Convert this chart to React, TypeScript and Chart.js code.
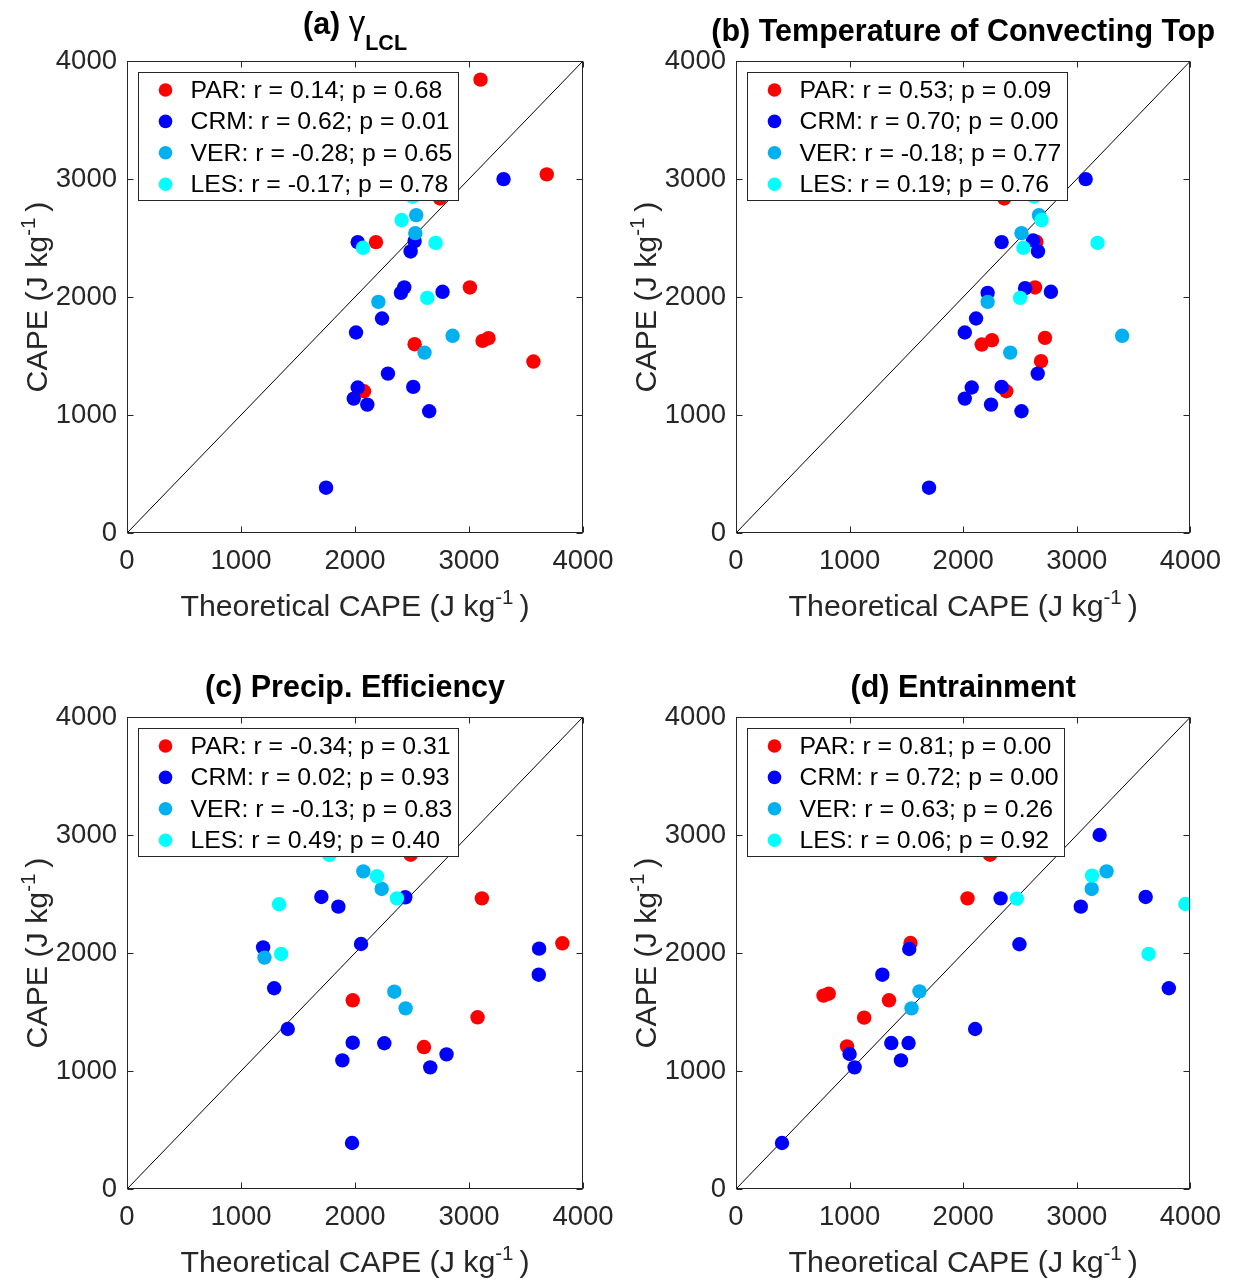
import React, { useEffect, useRef } from 'react';
import { Chart, registerables } from 'chart.js';

Chart.register(...registerables);

// ---------------- data ----------------
const MODELS = ['PAR', 'CRM', 'VER', 'LES'];
const COLORS = ['#ff0000', '#0000ff', '#00b0f0', '#00ffff'];
const AXIS_MIN = 0;
const AXIS_MAX = 4000;
const AXIS_STEP = 1000;
const DIAG_X = [0, 4000];
const DIAG_Y = [0, 4000];

// (a) gamma_LCL
const A_PAR_X = [3101, 3682, 2745, 2184, 3008, 2523, 3119, 3171, 3565, 2079];
const A_PAR_Y = [3842, 3039, 2835, 2465, 2081, 1600, 1628, 1651, 1453, 1201];
const A_CRM_X = [3303, 2024, 2523, 2488, 2432, 2403, 2768, 2237, 2009, 2289, 2024, 2511, 1989, 2108, 2651, 1746];
const A_CRM_Y = [2999, 2465, 2474, 2386, 2081, 2035, 2044, 1818, 1699, 1351, 1233, 1238, 1139, 1088, 1032, 384];
const A_VER_X = [2537, 2529, 2205, 2856, 2610];
const A_VER_Y = [2694, 2541, 1959, 1671, 1529];
const A_LES_X = [2505, 2409, 2707, 2070, 2634];
const A_LES_Y = [2850, 2652, 2459, 2417, 1993];
const A_STATS = ['PAR: r = 0.14; p = 0.68', 'CRM: r = 0.62; p = 0.01', 'VER: r = -0.28; p = 0.65', 'LES: r = -0.17; p = 0.78'];

// (b) Temperature of Convecting Top
const B_PAR_X = [2361, 2644, 2632, 2163, 2253, 2720, 2685, 2379];
const B_PAR_Y = [2835, 2468, 2081, 1597, 1634, 1654, 1456, 1201];
const B_CRM_X = [3078, 2338, 2615, 2658, 2545, 2215, 2772, 2113, 2014, 2656, 2075, 2338, 2014, 2245, 2513, 1699];
const B_CRM_Y = [2999, 2465, 2479, 2386, 2075, 2035, 2044, 1818, 1699, 1351, 1233, 1238, 1139, 1088, 1032, 384];
const B_VER_X = [2667, 2513, 2215, 3399, 2414];
const B_VER_Y = [2694, 2541, 1959, 1671, 1529];
const B_LES_X = [2624, 2690, 3183, 2530, 2501];
const B_LES_Y = [2850, 2652, 2459, 2417, 1993];
const B_STATS = ['PAR: r = 0.53; p = 0.09', 'CRM: r = 0.70; p = 0.00', 'VER: r = -0.18; p = 0.77', 'LES: r = 0.19; p = 0.76'];

// (c) Precip. Efficiency
const C_PAR_X = [2488, 3113, 3819, 1980, 3075, 2605];
const C_PAR_Y = [2833, 2463, 2082, 1599, 1455, 1203];
const C_CRM_X = [2441, 1705, 1854, 2053, 1194, 3615, 3612, 1291, 1410, 1980, 2257, 1889, 2803, 2660, 1974];
const C_CRM_Y = [2472, 2475, 2393, 2076, 2048, 2037, 1816, 1701, 1356, 1240, 1235, 1090, 1141, 1031, 390];
const C_VER_X = [2073, 2234, 1206, 2345, 2444];
const C_VER_Y = [2692, 2543, 1961, 1672, 1531];
const C_LES_X = [1775, 2193, 2368, 1334, 1352];
const C_LES_Y = [2831, 2650, 2463, 2413, 1992];
const C_STATS = ['PAR: r = -0.34; p = 0.31', 'CRM: r = 0.02; p = 0.93', 'VER: r = -0.13; p = 0.83', 'LES: r = 0.49; p = 0.40'];

// (d) Entrainment
const D_PAR_X = [2236, 2038, 1536, 770, 816, 1347, 1128, 977];
const D_PAR_Y = [2833, 2463, 2085, 1639, 1655, 1599, 1452, 1209];
const D_CRM_X = [3201, 2329, 3606, 3035, 2495, 1525, 1288, 3810, 2105, 1367, 1519, 1000, 1452, 1044, 405];
const D_CRM_Y = [3000, 2463, 2475, 2393, 2074, 2034, 1816, 1701, 1356, 1237, 1237, 1144, 1090, 1031, 390];
const D_VER_X = [3262, 3131, 1615, 1545];
const D_VER_Y = [2692, 2543, 1675, 1531];
const D_LES_X = [3134, 2472, 3956, 3632];
const D_LES_Y = [2656, 2461, 2415, 1992];
const D_STATS = ['PAR: r = 0.81; p = 0.00', 'CRM: r = 0.72; p = 0.00', 'VER: r = 0.63; p = 0.26', 'LES: r = 0.06; p = 0.92'];

// ---------------- text / style ----------------
const FONT = '"Liberation Sans", Arial, Helvetica, sans-serif';
const AX_COLOR = '#262626';
const TICK_SIZE = 27.5;
const LABEL_SIZE = 30.3;
const TITLE_SIZE = 30.5;
const SUP_SIZE = 20.5;
const LEGEND_SIZE = 24.8;

type Part = { t: string; size: number; bold?: boolean; dy?: number; gap?: number };

const TITLE_A: Part[] = [
  { t: '(a) ', size: TITLE_SIZE, bold: true },
  { t: 'γ', size: 33 },
  { t: 'LCL', size: 21.5, bold: true, dy: 16 },
];
const TITLE_B: Part[] = [{ t: '(b) Temperature of Convecting Top', size: TITLE_SIZE, bold: true }];
const TITLE_C: Part[] = [{ t: '(c) Precip. Efficiency', size: TITLE_SIZE, bold: true }];
const TITLE_D: Part[] = [{ t: '(d) Entrainment', size: TITLE_SIZE, bold: true }];

const XLABEL: Part[] = [
  { t: 'Theoretical CAPE (J kg', size: LABEL_SIZE },
  { t: '-1', size: SUP_SIZE, dy: -12 },
  { t: ')', size: LABEL_SIZE, gap: 6 },
];
const YLABEL: Part[] = [
  { t: 'CAPE (J kg', size: LABEL_SIZE },
  { t: '-1', size: SUP_SIZE, dy: -12 },
  { t: ')', size: LABEL_SIZE, gap: 6 },
];

type Box = { left: number; top: number; width: number; height: number };
type PlotBox = { left: number; top: number; right: number; bottom: number };
type PanelDef = {
  id: string;
  canvas: Box;
  plot: PlotBox;
  title: Part[];
  titleBase: number;
  series: number[][][];
  stats: string[];
};

const PANELS: PanelDef[] = [
  {
    id: 'a',
    canvas: { left: 0, top: 0, width: 660, height: 640 },
    plot: { left: 127, top: 61, right: 583, bottom: 533 },
    title: TITLE_A,
    titleBase: 27,
    series: [[A_PAR_X, A_PAR_Y], [A_CRM_X, A_CRM_Y], [A_VER_X, A_VER_Y], [A_LES_X, A_LES_Y]],
    stats: A_STATS,
  },
  {
    id: 'b',
    canvas: { left: 590, top: 0, width: 643, height: 640 },
    plot: { left: 736, top: 61, right: 1193, bottom: 533 },
    title: TITLE_B,
    titleBase: 20,
    series: [[B_PAR_X, B_PAR_Y], [B_CRM_X, B_CRM_Y], [B_VER_X, B_VER_Y], [B_LES_X, B_LES_Y]],
    stats: B_STATS,
  },
  {
    id: 'c',
    canvas: { left: 0, top: 630, width: 660, height: 651 },
    plot: { left: 127, top: 717, right: 583, bottom: 1189 },
    title: TITLE_C,
    titleBase: 20,
    series: [[C_PAR_X, C_PAR_Y], [C_CRM_X, C_CRM_Y], [C_VER_X, C_VER_Y], [C_LES_X, C_LES_Y]],
    stats: C_STATS,
  },
  {
    id: 'd',
    canvas: { left: 590, top: 630, width: 643, height: 651 },
    plot: { left: 736, top: 717, right: 1193, bottom: 1189 },
    title: TITLE_D,
    titleBase: 20,
    series: [[D_PAR_X, D_PAR_Y], [D_CRM_X, D_CRM_Y], [D_VER_X, D_VER_Y], [D_LES_X, D_LES_Y]],
    stats: D_STATS,
  },
];

function fontOf(p: Part) {
  return `${p.bold ? 'bold ' : ''}${p.size}px ${FONT}`;
}

function drawParts(ctx: CanvasRenderingContext2D, parts: Part[], color: string) {
  const widths = parts.map((p) => {
    ctx.font = fontOf(p);
    return ctx.measureText(p.t).width + (p.gap || 0);
  });
  const total = widths.reduce((a, b) => a + b, 0);
  let x = -total / 2;
  ctx.fillStyle = color;
  ctx.textBaseline = 'alphabetic';
  ctx.textAlign = 'left';
  parts.forEach((p, i) => {
    ctx.font = fontOf(p);
    ctx.fillText(p.t, x + (p.gap || 0), p.dy || 0);
    x += widths[i];
  });
}

function decorPlugin(def: PanelDef) {
  return {
    id: 'decor_' + def.id,
    afterDatasetsDraw(chart: any) {
      const { ctx, chartArea: ca, scales } = chart;
      const xs = scales.x;
      const ys = scales.y;
      ctx.save();
      // axes box + inward ticks
      ctx.strokeStyle = AX_COLOR;
      ctx.lineWidth = 1;
      const L = Math.round(ca.left) + 0.5;
      const R = Math.round(ca.right) - 0.5;
      const T = Math.round(ca.top) + 0.5;
      const B = Math.round(ca.bottom) - 0.5;
      ctx.strokeRect(L, T, R - L, B - T);
      const tl = 6;
      ctx.beginPath();
      xs.ticks.forEach((t: any) => {
        const px = Math.round(xs.getPixelForValue(t.value)) + 0.5;
        ctx.moveTo(px, B);
        ctx.lineTo(px, B - tl);
        ctx.moveTo(px, T);
        ctx.lineTo(px, T + tl);
      });
      ys.ticks.forEach((t: any) => {
        const py = Math.round(ys.getPixelForValue(t.value)) + 0.5;
        ctx.moveTo(L, py);
        ctx.lineTo(L + tl, py);
        ctx.moveTo(R, py);
        ctx.lineTo(R - tl, py);
      });
      ctx.stroke();

      // legend (drawn over the points)
      const entries = chart.data.datasets.filter((d: any) => d.label);
      ctx.font = `${LEGEND_SIZE}px ${FONT}`;
      const maxW = Math.max(...entries.map((d: any) => ctx.measureText(d.label).width));
      const bx = Math.round(ca.left + 10.5) + 0.5;
      const by = Math.round(ca.top + 11) + 0.5;
      const textX = 52;
      const bw = Math.round(textX + maxW + 6);
      const rowH = 31.4;
      const bh = Math.round(17.5 * 2 + rowH * (entries.length - 1) - 1);
      ctx.fillStyle = '#ffffff';
      ctx.fillRect(bx, by, bw, bh);
      ctx.strokeStyle = AX_COLOR;
      ctx.strokeRect(bx, by, bw, bh);
      entries.forEach((d: any, i: number) => {
        const cy = by + 17.5 + i * rowH;
        ctx.beginPath();
        ctx.fillStyle = d.backgroundColor;
        ctx.arc(bx + 27, cy, 6.8, 0, Math.PI * 2);
        ctx.fill();
        ctx.fillStyle = '#000000';
        ctx.textAlign = 'left';
        ctx.textBaseline = 'middle';
        ctx.font = `${LEGEND_SIZE}px ${FONT}`;
        ctx.fillText(d.label, bx + textX, cy + 1);
      });
      ctx.restore();
    },
    afterDraw(chart: any) {
      const { ctx, chartArea: ca } = chart;
      const cx = (ca.left + ca.right) / 2;
      const cy = (ca.top + ca.bottom) / 2;
      // title
      ctx.save();
      ctx.translate(cx, ca.top - def.titleBase);
      drawParts(ctx, def.title, '#000000');
      ctx.restore();
      // x label
      ctx.save();
      ctx.translate(cx, ca.bottom + 83);
      drawParts(ctx, XLABEL, AX_COLOR);
      ctx.restore();
      // y label
      ctx.save();
      ctx.translate(ca.left - 80, cy);
      ctx.rotate(-Math.PI / 2);
      drawParts(ctx, YLABEL, AX_COLOR);
      ctx.restore();
    },
  };
}

function PanelChart({ def }: { def: PanelDef }) {
  const ref = useRef<HTMLCanvasElement>(null);
  const c = def.canvas;
  const p = def.plot;
  useEffect(() => {
    if (!ref.current) return;
    const datasets: any[] = MODELS.map((m, i) => ({
      label: def.stats[i],
      data: def.series[i][0].map((xv, j) => ({ x: xv, y: def.series[i][1][j] })),
      backgroundColor: COLORS[i],
      borderColor: COLORS[i],
      pointRadius: 7.2,
      pointHoverRadius: 7.2,
      pointBorderWidth: 0,
      showLine: false,
      order: 4 - i,
    }));
    datasets.push({
      label: '',
      data: DIAG_X.map((v, j) => ({ x: v, y: DIAG_Y[j] })),
      showLine: true,
      pointRadius: 0,
      pointHoverRadius: 0,
      borderColor: '#000000',
      borderWidth: 1,
      backgroundColor: '#000000',
      order: 10,
    });
    const tickFont = { family: FONT, size: TICK_SIZE };
    const fmt = (v: any) => String(v);
    const chart = new Chart(ref.current, {
      type: 'scatter',
      data: { datasets },
      options: {
        responsive: false,
        animation: false,
        devicePixelRatio: 1,
        events: [],
        layout: {
          padding: { top: p.top - c.top, right: c.left + c.width - p.right, bottom: 0, left: 0 },
        },
        plugins: {
          legend: { display: false },
          tooltip: { enabled: false },
          title: { display: false },
        },
        scales: {
          x: {
            type: 'linear',
            position: 'bottom',
            min: AXIS_MIN,
            max: AXIS_MAX,
            ticks: { stepSize: AXIS_STEP, font: tickFont, color: AX_COLOR, padding: 12, maxRotation: 0, autoSkip: false, callback: fmt },
            grid: { display: false, drawTicks: false },
            border: { display: false },
            afterFit: (s: any) => {
              s.height = c.top + c.height - p.bottom;
            },
          },
          y: {
            type: 'linear',
            position: 'left',
            min: AXIS_MIN,
            max: AXIS_MAX,
            ticks: { stepSize: AXIS_STEP, font: tickFont, color: AX_COLOR, padding: 10, autoSkip: false, callback: fmt },
            grid: { display: false, drawTicks: false },
            border: { display: false },
            afterFit: (s: any) => {
              s.width = p.left - c.left;
            },
          },
        },
      } as any,
      plugins: [decorPlugin(def)],
    });
    return () => chart.destroy();
  }, []);
  return (
    <canvas
      ref={ref}
      width={c.width}
      height={c.height}
      style={{ position: 'absolute', left: c.left, top: c.top, width: c.width, height: c.height }}
    />
  );
}

export default function App() {
  return (
    <div style={{ position: 'absolute', left: 0, top: 0, width: 1233, height: 1281, background: '#ffffff' }}>
      {PANELS.map((d) => (
        <PanelChart key={d.id} def={d} />
      ))}
    </div>
  );
}
